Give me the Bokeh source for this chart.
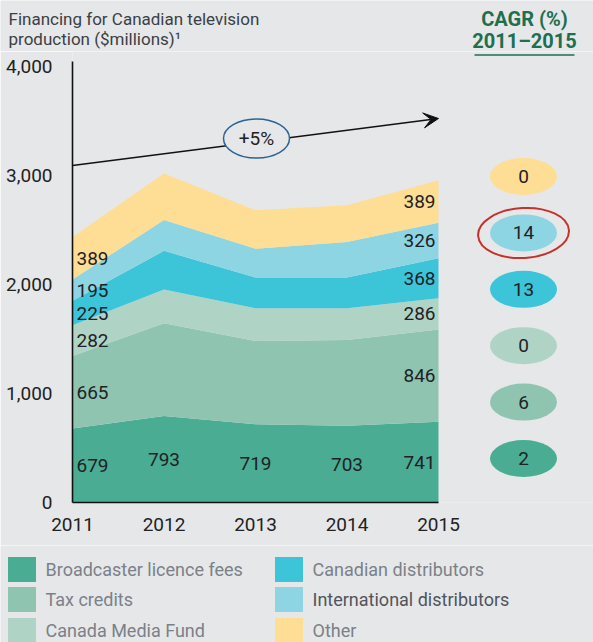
from bokeh.plotting import figure
from bokeh.layouts import column
from bokeh.models import Range1d, FixedTicker, Arrow, VeeHead, ColumnDataSource
from bokeh.core.properties import value
from bokeh.embed import file_html
from bokeh.resources import INLINE

# ---------------- data ----------------
years = [2011, 2012, 2013, 2014, 2015]
series_names = ["Broadcaster licence fees", "Tax credits", "Canada Media Fund",
                "Canadian distributors", "International distributors", "Other"]
broadcaster = [679, 793, 719, 703, 741]
tax_credits = [665, 852, 763, 788, 846]
media_fund = [282, 310, 300, 291, 286]
canadian_dist = [225, 354, 282, 282, 368]
intl_dist = [195, 282, 263, 327, 326]
other = [389, 427, 355, 336, 389]
cagr = [2, 6, 0, 13, 14, 0]
total_growth = "+5%"
y_ticks = [0, 1000, 2000, 3000, 4000]
y_tick_labels = ["0", "1,000", "2,000", "3,000", "4,000"]
x_tick_labels = ["2011", "2012", "2013", "2014", "2015"]
title_lines = ["Financing for Canadian television", "production ($millions)\u00b9"]
cagr_title = ["CAGR (%)", "2011\u20132015"]

colors = ["#4aad93", "#8fc4b1", "#afd4c6", "#3cc4d9", "#8dd5e3", "#fedd95"]
BG = "#e6e7e9"
GREEN = "#1d6f50"
FONT = "Roboto"
series = [broadcaster, tax_credits, media_fund, canadian_dist, intl_dist, other]
keys = ["s%d" % i for i in range(len(series))]

W = 593
HEAD_H, MAIN_H = 51, 494
FOOT_H = 642 - HEAD_H - MAIN_H


def plain(h):
    f = figure(width=W, height=h, x_range=Range1d(0, W), y_range=Range1d(h, 0),
               x_axis_type=None, y_axis_type=None, title=None, frame_align=False,
               min_border_left=0, min_border_right=0, min_border_top=0,
               min_border_bottom=0, output_backend="svg", toolbar_location=None)
    f.background_fill_color = BG
    f.border_fill_color = BG
    f.outline_line_color = None
    return f


# ---------------- header ----------------
head = plain(HEAD_H)
head.text(x=[8, 8], y=[18, 38], text=title_lines, text_baseline="middle",
          text_font=value(FONT), text_font_size="17px", text_color="#3b4045")
head.text(x=[524, 524], y=[18.5, 40], text=cagr_title, text_align="center",
          text_baseline="middle", text_font=value(FONT), text_font_size="20px",
          text_font_style="bold", text_color=GREEN)

# ---------------- main chart ----------------
# page geometry: 2011 at x=72, 91.5 px per year; value 0 at y=502, 0.109 px per unit
X0, YEAR_PX = 72, 91.5
Y0, PX_UNIT = 502, 0.109
TOP = HEAD_H


def xd(px):
    return years[0] + (px - X0) / YEAR_PX


def yd(py):
    return (Y0 - py) / PX_UNIT


p = figure(width=W, height=MAIN_H, title=None, frame_align=False,
           x_range=Range1d(years[0], xd(W)), y_range=Range1d(0, yd(TOP)),
           min_border_left=X0, min_border_right=0, min_border_top=0,
           min_border_bottom=TOP + MAIN_H - Y0,
           output_backend="svg", toolbar_location=None)
p.background_fill_color = BG
p.border_fill_color = BG
p.outline_line_color = None
p.grid.visible = False

p.xaxis.ticker = FixedTicker(ticks=years)
p.xaxis.major_label_overrides = {y: t for y, t in zip(years, x_tick_labels)}
p.xaxis.bounds = (years[0], years[-1])
p.yaxis.ticker = FixedTicker(ticks=y_ticks)
p.yaxis.major_label_overrides = {v: t for v, t in zip(y_ticks, y_tick_labels)}
p.yaxis.bounds = (0, yd(61))
for ax in (p.xaxis, p.yaxis):
    ax.axis_line_color = "#111111"
    ax.axis_line_width = 1.6
    ax.major_tick_line_color = None
    ax.minor_tick_line_color = None
    ax.major_label_text_font = FONT
    ax.major_label_text_font_size = "19px"
    ax.major_label_text_color = "#222222"
p.xaxis.major_label_standoff = 9
p.yaxis.major_label_standoff = 14

src = ColumnDataSource(dict(x=years, **{k: v for k, v in zip(keys, series)}))
areas = p.varea_stack(stackers=keys, x="x", color=colors, source=src)

# data labels at band midpoints
lx, ly, lt, la, lo = [], [], [], [], []
for j, yr in enumerate(years):
    cum = 0
    for i, s in enumerate(series):
        mid = cum + s[j] / 2
        cum += s[j]
        if j in (0, len(years) - 1) or i == 0:
            lx.append(yr)
            ly.append(mid)
            lt.append(str(s[j]))
            if j == 0:
                la.append("left"); lo.append(4)
            elif j == len(years) - 1:
                la.append("right"); lo.append(-3)
            else:
                la.append("center"); lo.append(0)
lsrc = ColumnDataSource(dict(x=lx, y=ly, t=lt, a=la, o=lo))
p.text(x="x", y="y", text="t", text_align="a", x_offset="o", source=lsrc,
       text_baseline="middle", text_font=value(FONT), text_font_size="19px",
       text_color="#1e2225")

# growth arrow
p.add_layout(Arrow(x_start=years[0], y_start=yd(165), x_end=years[-1], y_end=yd(118),
                   line_color="#111111", line_width=1.5, level="underlay",
                   end=VeeHead(size=15, fill_color="#111111", line_color="#111111")))
p.ellipse(x=[xd(256)], y=[yd(138)], width=66, height=39, width_units="screen",
          height_units="screen", fill_color=BG, line_color="#2a6496", line_width=1.5)
p.text(x=[xd(256)], y=[yd(138)], text=[total_growth], text_align="center",
       text_baseline="middle", text_font=value(FONT), text_font_size="19px",
       text_color="#1e2225")

# CAGR column
p.segment(x0=[xd(474)], x1=[xd(574)], y0=[yd(54.5)], y1=[yd(54.5)], line_color=GREEN,
          line_width=1.5)
cx = xd(523)
cy = [yd(458 - i * 56.4) for i in range(len(cagr))]
p.ellipse(x=[cx] * len(cagr), y=cy, width=67, height=37, width_units="screen",
          height_units="screen", fill_color=colors, line_color=None)
p.text(x=[cx] * len(cagr), y=cy, text=[str(c) for c in cagr], text_align="center",
       text_baseline="middle", text_font=value(FONT), text_font_size="19px",
       text_color="#1e2225")
p.ellipse(x=[cx], y=[yd(232.5)], width=91, height=50, angle=0.06, width_units="screen",
          height_units="screen", fill_color=None, line_color="#c8312a", line_width=2)

# ---------------- footer legend ----------------
foot = plain(FOOT_H)
OFF = HEAD_H + MAIN_H
row_y = [569 - OFF, 599 - OFF, 630 - OFF]
sq_x = [21.5, 288.5]
txt_x = [45, 312]
lgx, lgy, tgx = [], [], []
for i in range(len(series_names)):
    c, r = divmod(i, 3)
    lgx.append(sq_x[c]); lgy.append(row_y[r]); tgx.append(txt_x[c])
foot.rect(x=lgx, y=lgy, width=28, height=25, fill_color=colors, line_color=None)
txt_cols = ["#50555b" if n.startswith("International") else "#7b8188" for n in series_names]
foot.text(x=tgx, y=lgy, text=series_names, text_baseline="middle",
          text_font=value(FONT), text_font_size="18px", text_color=txt_cols)

layout = column(head, p, foot, spacing=0)
open("out.html", "w").write(file_html(layout, INLINE))
